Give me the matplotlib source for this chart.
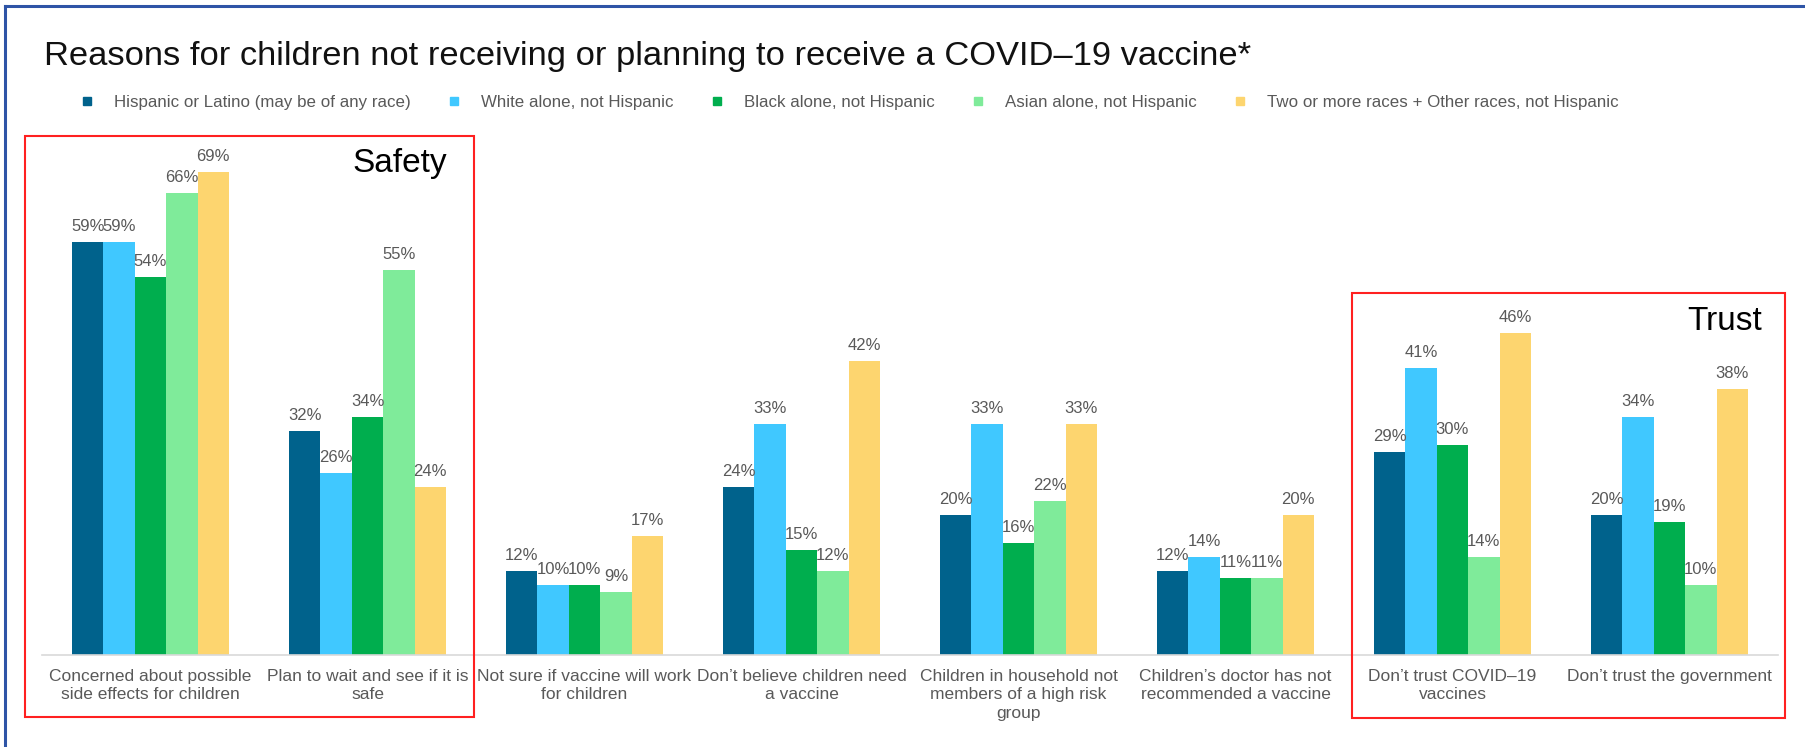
import numpy as np
import matplotlib
matplotlib.use("Agg")
import matplotlib.pyplot as plt
from matplotlib.lines import Line2D
from matplotlib.patches import Rectangle

plt.rcParams['font.family'] = ['Liberation Sans', 'DejaVu Sans']

categories = [
    "Concerned about possible\nside effects for children",
    "Plan to wait and see if it is\nsafe",
    "Not sure if vaccine will work\nfor children",
    "Don\u2019t believe children need\na vaccine",
    "Children in household not\nmembers of a high risk\ngroup",
    "Children\u2019s doctor has not\nrecommended a vaccine",
    "Don\u2019t trust COVID\u201319\nvaccines",
    "Don\u2019t trust the government",
]
series_names = [
    "Hispanic or Latino (may be of any race)",
    "White alone, not Hispanic",
    "Black alone, not Hispanic",
    "Asian alone, not Hispanic",
    "Two or more races + Other races, not Hispanic",
]
hispanic = [59, 32, 12, 24, 20, 12, 29, 20]
white = [59, 26, 10, 33, 33, 14, 41, 34]
black = [54, 34, 10, 15, 16, 11, 30, 19]
asian = [66, 55, 9, 12, 22, 11, 14, 10]
other = [69, 24, 17, 42, 33, 20, 46, 38]
series_values = [hispanic, white, black, asian, other]
colors = ['#00628C', '#40C8FF', '#00AE4E', '#7FEB9A', '#FDD56F']

W, H = 1805, 747
GRAY = '#595959'

fig = plt.figure(figsize=(W / 100, H / 100), dpi=100)
ax = fig.add_axes([42 / W, (H - 655) / H, 1736 / W, 525 / H])

x = np.arange(len(categories))
bar_w = 0.1447
for i, (name, vals, col) in enumerate(zip(series_names, series_values, colors)):
    bars = ax.bar(x + (i - 2) * bar_w, vals, bar_w, color=col, label=name)
    for b, v in zip(bars, vals):
        ax.annotate(f"{v}%", (b.get_x() + b.get_width() / 2, v),
                    xytext=(0, 5.5), textcoords='offset points',
                    ha='center', va='bottom', fontsize=12, color=GRAY)

ax.set_xlim(-0.5, len(categories) - 0.5)
ax.set_ylim(0, 75)
ax.set_xticks(x)
ax.set_xticklabels(categories, fontsize=12.5, color=GRAY, linespacing=1.28)
ax.tick_params(axis='x', length=0, pad=10)
ax.set_yticks([])
for s in ['top', 'right', 'left']:
    ax.spines[s].set_visible(False)
ax.spines['bottom'].set_color('#D9D9D9')
ax.spines['bottom'].set_linewidth(1.2)

# title
fig.text(44 / W, 1 - 65 / H,
         "Reasons for children not receiving or planning to receive a COVID\u201319 vaccine*",
         fontsize=24.8, color='#111111', va='baseline', ha='left')

# legend
handles = [Line2D([], [], marker='s', ls='', color=c, markersize=6) for c in colors]
fig.legend(handles, series_names, loc='center left',
           bbox_to_anchor=(82 / W, 1 - 102 / H), ncol=5, frameon=False,
           fontsize=12.2, labelcolor=GRAY, handlelength=0.6,
           handletextpad=1.3, columnspacing=2.25, borderpad=0, borderaxespad=0)

# red highlight boxes
def box(x0, y0, x1, y1):
    fig.patches.append(Rectangle((x0 / W, 1 - y1 / H), (x1 - x0) / W, (y1 - y0) / H,
                                 transform=fig.transFigure, fill=False,
                                 edgecolor='#FF2020', linewidth=1.5))

box(25, 136, 474, 717)
box(1352, 293, 1785, 718)
fig.text(352 / W, 1 - 172 / H, "Safety", fontsize=24, color='black', va='baseline')
fig.text(1687 / W, 1 - 330 / H, "Trust", fontsize=24, color='black', va='baseline')

# slide frame (top and left edges)
fig.add_artist(Line2D([5 / W, 1], [1 - 6 / H, 1 - 6 / H], transform=fig.transFigure,
                      color='#2E54A6', linewidth=2.2))
fig.add_artist(Line2D([5 / W, 5 / W], [0, 1 - 6 / H], transform=fig.transFigure,
                      color='#2E54A6', linewidth=2.2))

fig.savefig("out.png", dpi=100)
